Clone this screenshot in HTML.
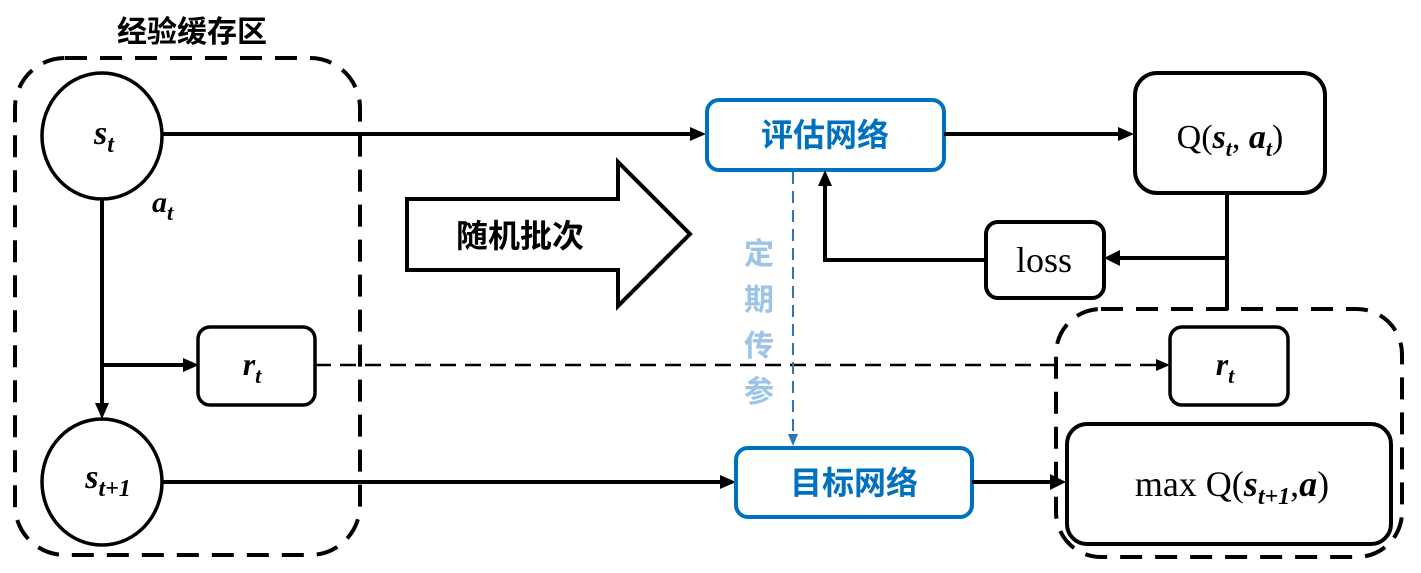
<!DOCTYPE html>
<html><head><meta charset="utf-8"><style>
html,body{margin:0;padding:0;background:#fff;}
svg{display:block;}
text{font-family:"Liberation Serif","Noto Serif CJK SC",serif;}
.cn{font-family:"Liberation Sans","Noto Sans CJK SC",sans-serif;font-weight:bold;}
.m{font-family:"Liberation Serif","DejaVu Serif",serif;font-style:italic;font-weight:bold;}
</style></head><body>
<svg width="1421" height="573" viewBox="0 0 1421 573" xmlns="http://www.w3.org/2000/svg">
<defs>
<marker id="a" viewBox="0 0 10 10" refX="10" refY="5" markerWidth="5" markerHeight="5" orient="auto-start-reverse" markerUnits="userSpaceOnUse" style="overflow:visible">
</marker>
</defs>
<!-- left dashed container -->
<rect x="15" y="58" width="345" height="497" rx="50" fill="none" stroke="#000" stroke-width="4" stroke-dasharray="22,13"/>
<text x="192" y="42" class="cn" font-size="30" text-anchor="middle">经验缓存区</text>
<!-- right dashed container -->
<rect x="1056" y="309" width="346" height="248" rx="45" fill="none" stroke="#000" stroke-width="4" stroke-dasharray="22,13"/>

<!-- circles -->
<ellipse cx="102" cy="136" rx="60" ry="63" fill="#fff" stroke="#000" stroke-width="3.5"/>
<text x="104" y="144" class="m" font-size="34" text-anchor="middle">s<tspan font-size="24" dy="8">t</tspan></text>
<ellipse cx="102" cy="482" rx="60" ry="63" fill="#fff" stroke="#000" stroke-width="3.5"/>
<text x="108" y="488" class="m" font-size="34" text-anchor="middle">s<tspan font-size="24" dy="8">t+1</tspan></text>
<text x="152" y="212" class="m" font-size="30">a<tspan font-size="22" dy="8">t</tspan></text>

<!-- vertical from s_t to s_t+1 -->
<line x1="102" y1="199" x2="102" y2="405" stroke="#000" stroke-width="4"/>
<polygon points="95,403 109,403 102,419" fill="#000"/>
<line x1="102" y1="365" x2="185" y2="365" stroke="#000" stroke-width="4"/>
<polygon points="183,358 183,372 199,365" fill="#000"/>

<!-- r_t left -->
<rect x="198" y="327" width="117" height="78" rx="12" fill="#fff" stroke="#000" stroke-width="3.5"/>
<text x="252" y="375" class="m" font-size="32" text-anchor="middle">r<tspan font-size="22" dy="8">t</tspan></text>
<!-- dashed r_t line -->
<line x1="315" y1="365" x2="1158" y2="365" stroke="#000" stroke-width="2.5" stroke-dasharray="16,9"/>
<polygon points="1156,359 1156,371 1170,365" fill="#000"/>
<rect x="1170" y="327" width="118" height="78" rx="12" fill="#fff" stroke="#000" stroke-width="3.5"/>
<text x="1225" y="375" class="m" font-size="32" text-anchor="middle">r<tspan font-size="22" dy="8">t</tspan></text>

<!-- s_t to eval -->
<line x1="162" y1="134" x2="692" y2="134" stroke="#000" stroke-width="4"/>
<polygon points="690,127 690,141 706,134" fill="#000"/>
<rect x="707" y="100" width="237" height="70" rx="12" fill="#fff" stroke="#0070c0" stroke-width="4"/>
<text x="825" y="146" class="cn" font-size="32" fill="#0070c0" text-anchor="middle">评估网络</text>

<!-- eval to Q -->
<line x1="944" y1="134" x2="1120" y2="134" stroke="#000" stroke-width="4"/>
<polygon points="1118,127 1118,141 1134,134" fill="#000"/>
<rect x="1135" y="73" width="190" height="120" rx="22" fill="#fff" stroke="#000" stroke-width="4"/>
<text x="1230" y="148" font-size="34" text-anchor="middle">Q(<tspan class="m">s</tspan><tspan class="m" font-size="22" dy="8">t</tspan><tspan dy="-8">, </tspan><tspan class="m">a</tspan><tspan class="m" font-size="22" dy="8">t</tspan><tspan dy="-8">)</tspan></text>

<!-- Q down and loss -->
<line x1="1227" y1="193" x2="1227" y2="310" stroke="#000" stroke-width="4"/>
<line x1="1227" y1="258" x2="1118" y2="258" stroke="#000" stroke-width="4"/>
<polygon points="1120,250 1120,266 1104,258" fill="#000"/>
<rect x="986" y="222" width="118" height="76" rx="12" fill="#fff" stroke="#000" stroke-width="4"/>
<text x="1044" y="272" font-size="36" text-anchor="middle">loss</text>
<polyline points="986,260 825,260 825,184" fill="none" stroke="#000" stroke-width="4"/>
<polygon points="818,186 832,186 825,170" fill="#000"/>

<!-- periodic param transfer -->
<line x1="793" y1="172" x2="793" y2="436" stroke="#2e75b6" stroke-width="2" stroke-dasharray="12,7"/>
<polygon points="788,434 798,434 793,446" fill="#2e75b6"/>
<text class="cn" font-size="30" fill="#9dc3e6" text-anchor="middle"><tspan x="759" y="264">定</tspan><tspan x="759" y="310">期</tspan><tspan x="759" y="356">传</tspan><tspan x="759" y="402">参</tspan></text>

<!-- big arrow -->
<polygon points="407,199 618,199 618,162 690,234 618,306 618,270 407,270" fill="#fff" stroke="#000" stroke-width="4"/>
<text x="520" y="247" class="cn" font-size="32" text-anchor="middle">随机批次</text>

<!-- s_t+1 to target -->
<line x1="162" y1="482" x2="722" y2="482" stroke="#000" stroke-width="4"/>
<polygon points="720,475 720,489 736,482" fill="#000"/>
<rect x="736" y="448" width="236" height="69" rx="12" fill="#fff" stroke="#0070c0" stroke-width="4"/>
<text x="854" y="494" class="cn" font-size="32" fill="#0070c0" text-anchor="middle">目标网络</text>
<line x1="972" y1="482" x2="1052" y2="482" stroke="#000" stroke-width="4"/>
<polygon points="1050,474 1050,490 1066,482" fill="#000"/>
<rect x="1067" y="424" width="324" height="120" rx="20" fill="#fff" stroke="#000" stroke-width="4"/>
<text x="1232" y="496" font-size="36" text-anchor="middle">max Q(<tspan class="m">s</tspan><tspan class="m" font-size="24" dy="8">t+1</tspan><tspan dy="-8">,</tspan><tspan class="m">a</tspan>)</text>
</svg>
</body></html>
